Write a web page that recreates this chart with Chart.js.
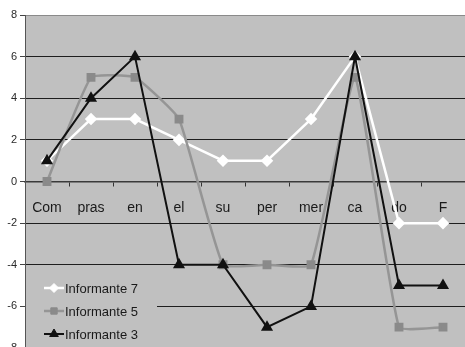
<!DOCTYPE html>
<html>
<head>
<meta charset="utf-8">
<script src="https://cdn.jsdelivr.net/npm/chart.js@4/dist/chart.umd.min.js"></script>
<style>
  html, body { margin: 0; padding: 0; background: #ffffff; overflow: hidden; width: 465px; height: 347px; }
  #wrap { position: absolute; left: 0; top: 0; width: 472px; height: 358px; }
</style>
</head>
<body>
<div id="wrap"><canvas id="c" width="472" height="358"></canvas></div>
<script>
// Categories along the horizontal axis
const categories = ['Com', 'pras', 'en', 'el', 'su', 'per', 'mer', 'ca', 'do', 'F'];

// Series values
const informante7 = [1, 3, 3, 2, 1, 1, 3, 6, -2, -2];
const informante5 = [0, 5, 5, 3, -4, -4, -4, 5, -7, -7];
const informante3 = [1, 4, 6, -4, -4, -7, -6, 6, -5, -5];

// Vertical axis ticks
const yTicks = [-8, -6, -4, -2, 0, 2, 4, 6, 8];

const seriesNames = ['Informante 7', 'Informante 5', 'Informante 3'];

const PLOT_BG = '#c0c0c0';

// Grey plot area behind everything
const plotBackground = {
  id: 'plotBackground',
  beforeDraw(chart) {
    const { ctx, chartArea: a } = chart;
    ctx.save();
    ctx.fillStyle = PLOT_BG;
    ctx.fillRect(a.left, a.top, a.right - a.left, a.bottom - a.top);
    ctx.restore();
  }
};

// Legend box sitting inside the plot, lower left
const innerLegend = {
  id: 'innerLegend',
  afterDatasetsDraw(chart) {
    const { ctx, chartArea: a } = chart;
    const boxLeft = a.left + 1, boxTop = 272, boxRight = 157, boxBottom = a.bottom;
    ctx.save();
    ctx.fillStyle = PLOT_BG;
    ctx.fillRect(boxLeft, boxTop, boxRight - boxLeft, boxBottom - boxTop);
    const rowY = [288, 311, 334];
    chart.data.datasets.forEach((ds, i) => {
      const y = rowY[i];
      ctx.strokeStyle = ds.borderColor;
      ctx.lineWidth = ds.borderWidth;
      ctx.beginPath();
      ctx.moveTo(44, y);
      ctx.lineTo(64, y);
      ctx.stroke();
      ctx.fillStyle = ds.pointBackgroundColor;
      ctx.strokeStyle = ds.pointBorderColor;
      ctx.lineWidth = 1;
      Chart.helpers.drawPoint(ctx, {
        pointStyle: ds.pointStyle,
        radius: ds.pointRadius,
        rotation: 0,
        borderWidth: 1
      }, 54, y);
      ctx.fillStyle = '#1a1a1a';
      ctx.font = '13px "Liberation Sans", Arial, sans-serif';
      ctx.textAlign = 'left';
      ctx.textBaseline = 'middle';
      ctx.fillText(ds.label, 65, y + 1);
    });
    ctx.restore();
  }
};

const chart = new Chart(document.getElementById('c'), {
  type: 'line',
  data: {
    labels: categories,
    datasets: [
      {
        label: seriesNames[0],
        data: informante7,
        borderColor: '#ffffff',
        backgroundColor: '#ffffff',
        borderWidth: 2.5,
        pointStyle: 'rectRot',
        pointRadius: 4.5,
        pointBorderColor: '#ffffff',
        pointBackgroundColor: '#ffffff',
        tension: 0,
        order: 2
      },
      {
        label: seriesNames[1],
        data: informante5,
        borderColor: '#959595',
        backgroundColor: '#8a8a8a',
        borderWidth: 2.5,
        pointStyle: 'rect',
        pointRadius: 4.5,
        pointBorderColor: '#8a8a8a',
        pointBackgroundColor: '#8a8a8a',
        tension: 0.12,
        order: 1
      },
      {
        label: seriesNames[2],
        data: informante3,
        borderColor: '#111111',
        backgroundColor: '#111111',
        borderWidth: 2,
        pointStyle: 'triangle',
        pointRadius: 5,
        pointBorderColor: '#111111',
        pointBackgroundColor: '#111111',
        tension: 0,
        order: 0
      }
    ]
  },
  options: {
    responsive: false,
    animation: false,
    devicePixelRatio: 1,
    layout: { padding: { top: 15, bottom: 10, right: 2, left: 0 } },
    plugins: {
      legend: { display: false },
      tooltip: { enabled: false }
    },
    scales: {
      x: {
        type: 'category',
        position: { y: 0 },
        offset: true,
        grid: {
          offset: true,
          drawOnChartArea: false,
          drawTicks: true,
          tickLength: 4,
          tickColor: '#333333',
          tickWidth: 1
        },
        border: { display: true, color: '#3a3a3a', width: 1.5 },
        ticks: {
          color: '#1a1a1a',
          font: { family: '"Liberation Sans", Arial, sans-serif', size: 14 },
          padding: 14,
          maxRotation: 0,
          autoSkip: false
        }
      },
      y: {
        min: -8,
        max: 8,
        afterBuildTicks(scale) {
          scale.ticks = yTicks.map(v => ({ value: v }));
        },
        afterFit(scale) { scale.width = 25; },
        grid: {
          color: ctx => (ctx.tick && ctx.tick.value === 8) ? '#8a8a8a' : '#1e1e1e',
          lineWidth: 1,
          drawTicks: true,
          tickLength: 5,
          tickColor: '#444444'
        },
        border: { display: true, color: '#555555', width: 1 },
        ticks: {
          color: '#2a2a2a',
          font: { family: '"Liberation Sans", Arial, sans-serif', size: 11 },
          padding: 3
        }
      }
    }
  },
  plugins: [plotBackground, innerLegend]
});
</script>
</body>
</html>
